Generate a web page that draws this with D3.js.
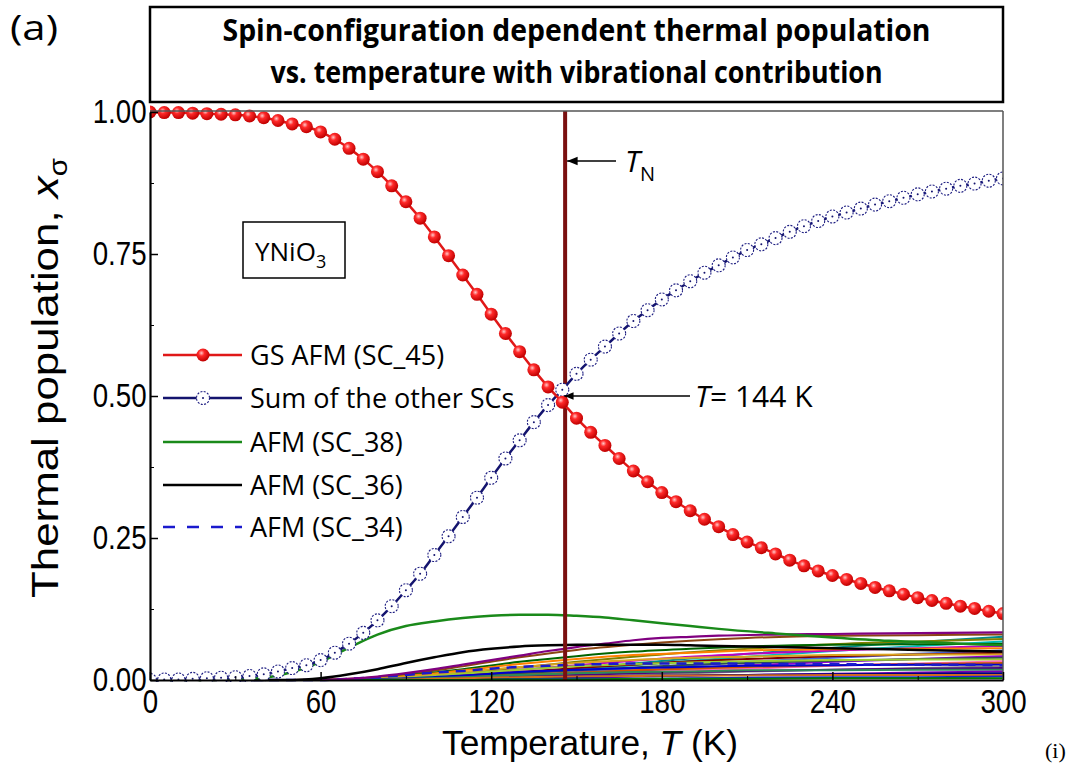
<!DOCTYPE html>
<html><head><meta charset="utf-8">
<script src="https://cdn.jsdelivr.net/npm/d3@7"></script>
<style>
html,body{margin:0;padding:0;background:#fff;}
svg{display:block;}
.narrow{font-family:'Liberation Sans','Arimo',sans-serif;}
.bold{font-family:'Open Sans','Noto Sans',sans-serif;}
.reg{font-family:'Open Sans','Noto Sans',sans-serif;}
</style></head>
<body>
<svg id="c" width="1072" height="763"></svg>
<script>
// ---------------- data ----------------
const tempDots = [0,5,10,15,20,25,30,35,40,45,50,55,60,65,70,75,80,85,90,95,100,105,110,115,120,125,130,135,140,145,150,155,160,165,170,175,180,185,190,195,200,205,210,215,220,225,230,235,240,245,250,255,260,265,270,275,280,285,290,295,300];
const gsAFM45 = [1.000,0.999,0.999,0.998,0.997,0.996,0.995,0.993,0.990,0.985,
 0.979,0.974,0.965,0.952,0.936,0.917,0.895,0.870,0.842,0.813,
 0.780,0.747,0.713,0.679,0.644,0.610,0.578,0.546,0.516,0.489,
 0.461,0.436,0.413,0.390,0.368,0.349,0.330,0.314,0.298,0.283,
 0.270,0.256,0.243,0.233,0.222,0.211,0.201,0.192,0.184,0.177,
 0.170,0.163,0.157,0.151,0.145,0.140,0.135,0.130,0.126,0.121,
 0.117];
const sumOthers = [0.000,0.001,0.001,0.002,0.003,0.004,0.005,0.007,0.010,0.015,
 0.021,0.026,0.035,0.048,0.064,0.083,0.105,0.130,0.158,0.187,
 0.220,0.253,0.287,0.321,0.356,0.390,0.422,0.454,0.484,0.511,
 0.539,0.564,0.587,0.610,0.632,0.651,0.670,0.686,0.702,0.717,
 0.730,0.744,0.757,0.767,0.778,0.789,0.799,0.808,0.816,0.823,
 0.830,0.837,0.843,0.849,0.855,0.860,0.865,0.870,0.874,0.879,
 0.883];

const tempNamed = [0,20,40,50,60,70,80,90,100,110,120,130,140,150,160,170,180,190,200,220,240,260,280,300];
const afm38 = [0,0,0.004,0.014,0.032,0.057,0.080,0.095,0.103,0.109,0.113,0.115,0.115,0.113,0.110,0.105,0.100,0.095,0.090,0.082,0.075,0.069,0.065,0.061];
const afm36 = [0,0,0,0,0.003,0.010,0.019,0.030,0.040,0.049,0.055,0.059,0.061,0.062,0.062,0.062,0.062,0.061,0.060,0.058,0.056,0.054,0.052,0.050];
const afm34 = [0,0,0,0,0,0.002,0.005,0.009,0.013,0.016,0.020,0.023,0.025,0.027,0.028,0.029,0.029,0.029,0.029,0.028,0.028,0.027,0.027,0.026];
const scPurple = [0,0,0,0,0,0.002,0.006,0.012,0.019,0.027,0.035,0.043,0.051,0.058,0.064,0.070,0.074,0.076,0.078,0.080,0.081,0.082,0.083,0.084];

const tempMinor = [0,50,70,90,110,130,150,170,190,210,240,270,300];
const minorSeries = [
 [0,0,0.002,0.010,0.024,0.040,0.053,0.062,0.069,0.074,0.078,0.079,0.080],
 [0,0,0,0.002,0.005,0.011,0.020,0.029,0.038,0.046,0.057,0.067,0.076],
 [0,0,0.001,0.004,0.012,0.022,0.032,0.041,0.049,0.055,0.063,0.068,0.072],
 [0,0,0,0.001,0.005,0.010,0.018,0.026,0.034,0.041,0.051,0.060,0.068],
 [0,0,0.001,0.008,0.019,0.032,0.042,0.050,0.055,0.059,0.062,0.063,0.064],
 [0,0,0.001,0.004,0.010,0.018,0.026,0.034,0.041,0.046,0.052,0.056,0.060],
 [0,0,0.001,0.007,0.017,0.028,0.037,0.044,0.048,0.052,0.054,0.055,0.056],
 [0,0,0,0.001,0.004,0.008,0.014,0.020,0.026,0.032,0.039,0.046,0.052],
 [0,0,0,0.003,0.008,0.014,0.021,0.027,0.033,0.037,0.042,0.045,0.048],
 [0,0,0.001,0.005,0.014,0.023,0.030,0.035,0.039,0.041,0.044,0.045,0.045],
 [0,0,0,0.001,0.003,0.006,0.011,0.016,0.021,0.026,0.032,0.037,0.042],
 [0,0,0,0.002,0.006,0.012,0.017,0.022,0.027,0.030,0.034,0.037,0.039],
 [0,0,0.001,0.004,0.011,0.018,0.024,0.028,0.031,0.033,0.035,0.036,0.036],
 [0,0,0,0.001,0.002,0.005,0.009,0.013,0.017,0.020,0.025,0.029,0.033],
 [0,0,0,0.002,0.005,0.009,0.013,0.017,0.020,0.023,0.026,0.028,0.030],
 [0,0,0.001,0.003,0.008,0.014,0.018,0.021,0.023,0.025,0.026,0.027,0.027],
 [0,0,0,0,0.002,0.004,0.006,0.009,0.012,0.015,0.018,0.021,0.024],
 [0,0,0,0.001,0.003,0.006,0.009,0.012,0.014,0.016,0.018,0.020,0.021],
 [0,0,0,0.002,0.005,0.009,0.012,0.014,0.015,0.017,0.017,0.018,0.018],
 [0,0,0,0,0.001,0.002,0.004,0.006,0.008,0.009,0.011,0.013,0.015],
 [0,0,0,0.001,0.002,0.004,0.005,0.007,0.008,0.009,0.010,0.011,0.012],
 [0,0,0,0.001,0.003,0.005,0.006,0.007,0.008,0.008,0.009,0.009,0.009],
 [0,0,0,0,0,0.001,0.002,0.002,0.003,0.004,0.005,0.005,0.006],
 [0,0,0,0,0,0.001,0.001,0.002,0.002,0.002,0.003,0.003,0.003]
];
const minorColors = ["#8b4513","#008b8b","#808000","#00bcbc","#006400","#c000c0","#ff8000","#4169e1",
 "#800000","#daa520","#9400d3","#2f4f4f","#9acd32","#ff69b4","#cc5500","#0000cd",
 "#808080","#4b0082","#2e8b57","#7b00b4","#000080","#d2691e","#1e1ed2","#008000"];

const xTicks = [0,60,120,180,240,300];
const xMinorTicks = [30,90,150,210,270];
const yTicks = [0,0.25,0.5,0.75,1.0];
const yMinorTicks = [0.125,0.375,0.625,0.875];
const legendLabels = ["GS AFM (SC_45)","Sum of the other SCs","AFM (SC_38)","AFM (SC_36)","AFM (SC_34)"];
const titleLines = ["Spin-configuration dependent thermal population","vs. temperature with vibrational contribution"];
const tNeel = 146;
const tCross = 144;

// ---------------- drawing ----------------
const svg = d3.select("#c");
const x = d3.scaleLinear().domain([0,300]).range([150,1003]);
const y = d3.scaleLinear().domain([0,1]).range([680,112]);

const defs = svg.append("defs");
const rg = defs.append("radialGradient").attr("id","ball").attr("cx","38%").attr("cy","35%").attr("r","65%");
rg.append("stop").attr("offset","0%").attr("stop-color","#ffc8c8");
rg.append("stop").attr("offset","35%").attr("stop-color","#ff2a2a");
rg.append("stop").attr("offset","100%").attr("stop-color","#c00000");
defs.append("clipPath").attr("id","clip").append("rect").attr("x",150).attr("y",104).attr("width",853).attr("height",578);

// title box
svg.append("rect").attr("x",150).attr("y",7).attr("width",853).attr("height",95)
  .attr("fill","none").attr("stroke","#000").attr("stroke-width",2.5);
titleLines.forEach((t,i)=>{
  svg.append("text").attr("class","bold").attr("x",576.5).attr("y",[41,83][i])
    .attr("text-anchor","middle").attr("font-size",30).attr("font-weight","bold")
    .attr("textLength",[708,612][i]).attr("lengthAdjust","spacingAndGlyphs").text(t);
});
svg.append("text").attr("class","reg").attr("x",10).attr("y",40).attr("font-size",34)
  .attr("textLength",48).attr("lengthAdjust","spacingAndGlyphs").text("(a)");
svg.append("text").attr("x",1045).attr("y",758).attr("font-family","'Liberation Serif',serif").attr("font-size",22).text("(i)");

const plot = svg.append("g").attr("clip-path","url(#clip)");
const line = (ts) => d3.line().x((d,i)=>x(ts[i])).y(d=>y(d)).curve(d3.curveMonotoneX);

// minor series
minorSeries.forEach((s,k)=>{
  plot.append("path").datum(s).attr("d",line(tempMinor)).attr("fill","none")
    .attr("stroke",minorColors[k]).attr("stroke-width",2);
});
plot.append("path").datum(afm34).attr("d",line(tempNamed)).attr("fill","none")
  .attr("stroke","#1a1acd").attr("stroke-width",2.5).attr("stroke-dasharray","10,7");
plot.append("path").datum(scPurple).attr("d",line(tempNamed)).attr("fill","none")
  .attr("stroke","#800080").attr("stroke-width",2.2);
plot.append("path").datum(afm36).attr("d",line(tempNamed)).attr("fill","none")
  .attr("stroke","#000").attr("stroke-width",2.5);
plot.append("path").datum(afm38).attr("d",line(tempNamed)).attr("fill","none")
  .attr("stroke","#1a8a1a").attr("stroke-width",2.5);

// Neel line
plot.append("line").attr("x1",x(tNeel)).attr("x2",x(tNeel)).attr("y1",111).attr("y2",680)
  .attr("stroke","#7a1010").attr("stroke-width",4);

// sum of others
plot.append("path").datum(sumOthers).attr("d",line(tempDots)).attr("fill","none")
  .attr("stroke","#14146e").attr("stroke-width",2.5);
const bc = plot.append("g").selectAll("g").data(sumOthers).join("g")
  .attr("transform",(d,i)=>`translate(${x(tempDots[i])},${y(d)})`);
bc.append("circle").attr("r",6.5).attr("fill","#fff").attr("stroke","#1c1c80")
  .attr("stroke-width",1.1).attr("stroke-dasharray","2,1.4");
bc.append("circle").attr("r",1).attr("fill","#14146e");

// GS
plot.append("path").datum(gsAFM45).attr("d",line(tempDots)).attr("fill","none")
  .attr("stroke","#e01818").attr("stroke-width",2.5);
plot.append("g").selectAll("circle").data(gsAFM45).join("circle")
  .attr("cx",(d,i)=>x(tempDots[i])).attr("cy",d=>y(d)).attr("r",6.5).attr("fill","url(#ball)");

// frame
svg.append("line").attr("x1",150).attr("x2",1003).attr("y1",111).attr("y2",111).attr("stroke","#555").attr("stroke-width",1.5);
svg.append("line").attr("x1",1003).attr("x2",1003).attr("y1",111).attr("y2",681).attr("stroke","#555").attr("stroke-width",1.5);

// axes
const xa = svg.append("g").attr("transform","translate(0,680)")
  .call(d3.axisBottom(x).tickValues(xTicks).tickFormat(d3.format("d")).tickSizeInner(-8).tickSizeOuter(0).tickPadding(10));
xa.select(".domain").attr("stroke-width",2.2);
xa.selectAll(".tick line").attr("stroke-width",1.5);
xa.selectAll("text").attr("class","narrow").attr("font-size",33).attr("fill","#000").attr("transform","scale(0.84,1)");
svg.append("g").attr("transform","translate(0,680)")
  .call(d3.axisBottom(x).tickValues(xMinorTicks).tickFormat("").tickSizeInner(-4).tickSizeOuter(0))
  .call(g=>g.select(".domain").remove());

const ya = svg.append("g").attr("transform","translate(150,0)")
  .call(d3.axisLeft(y).tickValues(yTicks).tickFormat(d3.format(".2f")).tickSizeInner(-8).tickSizeOuter(0).tickPadding(4));
ya.select(".domain").attr("stroke-width",2.2);
ya.selectAll(".tick line").attr("stroke-width",1.5);
ya.selectAll("text").attr("class","narrow").attr("font-size",33).attr("fill","#000").attr("transform","scale(0.84,1)");
svg.append("g").attr("transform","translate(150,0)")
  .call(d3.axisLeft(y).tickValues(yMinorTicks).tickFormat("").tickSizeInner(-4).tickSizeOuter(0))
  .call(g=>g.select(".domain").remove());

// axis titles
const xt = svg.append("text").attr("class","narrow").attr("x",590).attr("y",755).attr("text-anchor","middle").attr("font-size",35)
  .attr("textLength",296).attr("lengthAdjust","spacingAndGlyphs");
xt.append("tspan").text("Temperature, ");
xt.append("tspan").attr("font-style","italic").text("T");
xt.append("tspan").text(" (K)");
const yt = svg.append("text").attr("class","narrow").attr("transform","translate(58,378) rotate(-90)").attr("text-anchor","middle").attr("font-size",37)
  .attr("textLength",440).attr("lengthAdjust","spacingAndGlyphs");
yt.append("tspan").text("Thermal population, ");
yt.append("tspan").attr("font-style","italic").text("x");
yt.append("tspan").attr("font-size",25).attr("dy",9).text("σ");

// YNiO3 box
svg.append("rect").attr("x",243).attr("y",222).attr("width",102).attr("height",56).attr("fill","#fff").attr("stroke","#000").attr("stroke-width",1.5);
const yn = svg.append("text").attr("class","reg").attr("x",255).attr("y",261).attr("font-size",26);
yn.append("tspan").text("YNiO");
yn.append("tspan").attr("font-size",18).attr("dy",7).text("3");

// legend
const legY = [355,398,442,485,527];
const lg = svg.append("g");
const legColors = ["#e01818","#14146e","#1a8a1a","#000","#1a1acd"];
legY.forEach((ly,i)=>{
  const l = lg.append("line").attr("x1",163).attr("x2",242).attr("y1",ly).attr("y2",ly)
    .attr("stroke",legColors[i]).attr("stroke-width",2.5);
  if(i===4) l.attr("stroke-dasharray","12,12");
  if(i===0) lg.append("circle").attr("cx",203).attr("cy",ly).attr("r",6.5).attr("fill","url(#ball)");
  if(i===1){
    lg.append("circle").attr("cx",203).attr("cy",ly).attr("r",6.5).attr("fill","#fff").attr("stroke","#1c1c80").attr("stroke-width",1.1).attr("stroke-dasharray","2,1.4");
    lg.append("circle").attr("cx",203).attr("cy",ly).attr("r",1).attr("fill","#14146e");
  }
  lg.append("text").attr("class","reg").attr("x",250).attr("y",ly).attr("dy","0.36em").attr("font-size",27).text(legendLabels[i]);
});

// T_N annotation
const arrow = defs.append("marker").attr("id","arr").attr("viewBox","0 0 10 10").attr("refX",10).attr("refY",5)
  .attr("markerWidth",7).attr("markerHeight",7).attr("orient","auto-start-reverse");
arrow.append("path").attr("d","M0,1 L10,5 L0,9 z").attr("fill","#000");
svg.append("line").attr("x1",616).attr("x2",x(tNeel)+2).attr("y1",161).attr("y2",161)
  .attr("stroke","#000").attr("stroke-width",1.5).attr("marker-end","url(#arr)");
const tn = svg.append("text").attr("class","reg").attr("x",625).attr("y",172).attr("font-size",30);
tn.append("tspan").attr("font-style","italic").text("T");
tn.append("tspan").attr("font-size",20).attr("dy",9).text("N");

// crossing annotation
svg.append("line").attr("x1",690).attr("x2",x(tCross)+5).attr("y1",y(0.5)).attr("y2",y(0.5))
  .attr("stroke","#000").attr("stroke-width",1.3).attr("marker-end","url(#arr)");
const tc = svg.append("text").attr("class","reg").attr("x",695).attr("y",y(0.5)+11).attr("font-size",30);
tc.append("tspan").attr("font-style","italic").text("T");
tc.append("tspan").text("= "+tCross+" K");
</script>
</body></html>
